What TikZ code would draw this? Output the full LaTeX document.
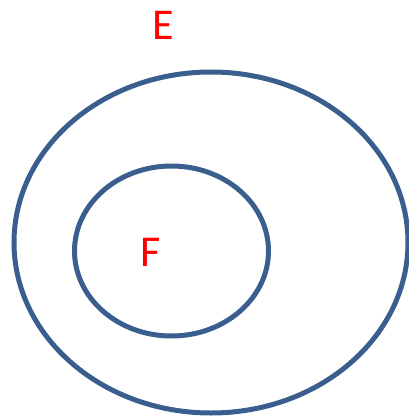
\documentclass[tikz,border=0pt]{standalone}
\usepackage{fontspec}
\setmainfont{Carlito}
\usepackage{xcolor}
\usetikzlibrary{positioning}
\definecolor{setblue}{HTML}{3A5F8E}

\begin{document}
\begin{tikzpicture}[
  x=1pt,y=-1pt,
  setline/.style={draw=setblue,line width=5pt},
  setlabel/.style={text=red,font=\fontsize{44}{44}\selectfont,inner sep=0pt}
]
\useasboundingbox (0,0) rectangle (408,417);
\draw[setline] (211,242.5) ellipse [x radius=197,y radius=170.5];
\draw[setline] (171.5,251) ellipse [x radius=97,y radius=85];
\node[setlabel] (E) at (163,25) {E};
\node[setlabel] (F) at (151,252) {F};
\end{tikzpicture}
\end{document}
